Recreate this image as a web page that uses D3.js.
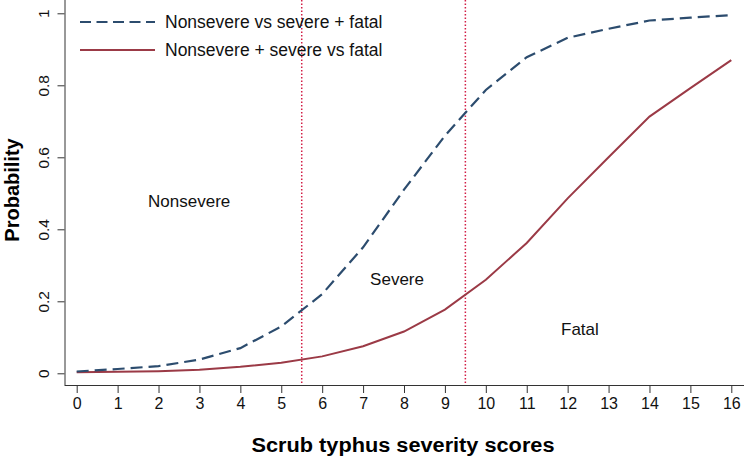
<!DOCTYPE html>
<html>
<head>
<meta charset="utf-8">
<script src="https://cdn.jsdelivr.net/npm/d3@7"></script>
<style>
  body { margin: 0; background: #fff; }
  svg { display: block; font-family: "Liberation Sans", Arial, sans-serif; }
</style>
</head>
<body>
<svg id="chart" width="744" height="458"></svg>
<script>
// scores on the x axis
const scores = d3.range(0, 17);
// predicted probabilities
const nonsevereVsSevereFatal = [0.005, 0.012, 0.02, 0.038, 0.07, 0.13, 0.22, 0.35, 0.51, 0.66, 0.787, 0.878, 0.932, 0.957, 0.98, 0.988, 0.995];
const nonsevereSevereVsFatal = [0.003, 0.004, 0.006, 0.01, 0.018, 0.029, 0.047, 0.075, 0.116, 0.177, 0.26, 0.362, 0.486, 0.6, 0.713, 0.792, 0.87];
const cutoffs = [5.5, 9.5];
const yTicks = [0, 0.2, 0.4, 0.6, 0.8, 1];
const legendLabels = ["Nonsevere vs severe + fatal", "Nonsevere + severe vs fatal"];
const regionLabels = [
  { text: "Nonsevere", x: 2.75, y: 0.478 },
  { text: "Severe", x: 7.83, y: 0.262 },
  { text: "Fatal", x: 12.3, y: 0.122 }
];

const svg = d3.select("#chart");
const x = d3.scaleLinear().domain([0, 16]).range([76.7, 731.3]);
const y = d3.scaleLinear().domain([0, 1]).range([373.3, 13.3]);

const blue = "#2c4c6e", red = "#9b3a46", dotRed = "#d21e46";

// axes: left and bottom lines, R style
const xAxis = svg.append("g").attr("transform", "translate(0,385)")
  .call(d3.axisBottom(x).tickValues(scores).tickSize(8).tickPadding(5).tickFormat(d3.format("d")));
xAxis.select(".domain").attr("d", "M64.5,0.5H744").attr("stroke", "#333");
xAxis.selectAll("line").attr("stroke", "#333");
xAxis.selectAll("text").attr("font-size", 16).attr("fill", "#111").attr("font-family", "Liberation Sans, Arial, sans-serif");

const yAxis = svg.append("g").attr("transform", "translate(64.5,0)")
  .call(d3.axisLeft(y).tickValues(yTicks).tickSize(7).tickFormat(d => d === 0 || d === 1 ? d : d3.format(".1f")(d)));
yAxis.select(".domain").attr("d", "M0.5,0V385").attr("stroke", "#333");
yAxis.selectAll("line").attr("stroke", "#333");
yAxis.selectAll("text")
  .attr("font-size", 15.5).attr("fill", "#111")
  .attr("font-family", "Liberation Sans, Arial, sans-serif")
  .attr("text-anchor", "middle")
  .attr("dy", null)
  .attr("x", null)
  .attr("transform", "translate(-20,0) rotate(-90)")
  .attr("dominant-baseline", "middle");

// cutoff lines
svg.selectAll(".cut").data(cutoffs).enter().append("line")
  .attr("x1", d => x(d)).attr("x2", d => x(d))
  .attr("y1", 0).attr("y2", 385)
  .attr("stroke", dotRed).attr("stroke-width", 1.5)
  .attr("stroke-dasharray", "1.5,2");

const line = d3.line().x((d, i) => x(scores[i])).y(d => y(d));

svg.append("path").datum(nonsevereSevereVsFatal)
  .attr("d", line).attr("fill", "none")
  .attr("stroke", red).attr("stroke-width", 2);

svg.append("path").datum(nonsevereVsSevereFatal)
  .attr("d", line).attr("fill", "none")
  .attr("stroke", blue).attr("stroke-width", 2.2)
  .attr("stroke-dasharray", "12,6");

// legend
const legend = svg.append("g");
legendLabels.forEach((t, i) => {
  const ly = 22 + i * 28;
  legend.append("line").attr("x1", 80).attr("x2", 155).attr("y1", ly).attr("y2", ly)
    .attr("stroke", i === 0 ? blue : red).attr("stroke-width", i === 0 ? 2.2 : 2)
    .attr("stroke-dasharray", i === 0 ? "11,5.5" : null);
  legend.append("text").attr("x", 165).attr("y", ly).attr("dy", "0.35em")
    .attr("font-size", 17.5).attr("fill", "#111").text(t);
});

// region labels
svg.selectAll(".region").data(regionLabels).enter().append("text")
  .attr("x", d => x(d.x)).attr("y", d => y(d.y)).attr("dy", "0.35em")
  .attr("text-anchor", "middle").attr("font-size", 17).attr("fill", "#111")
  .text(d => d.text);

// axis titles
svg.append("text").attr("x", 403).attr("y", 452)
  .attr("text-anchor", "middle").attr("font-size", 20).attr("font-weight", "bold")
  .attr("textLength", 303).attr("lengthAdjust", "spacingAndGlyphs")
  .text("Scrub typhus severity scores");
svg.append("text").attr("transform", "translate(12,190) rotate(-90)").attr("dy", "0.35em")
  .attr("text-anchor", "middle").attr("font-size", 20).attr("font-weight", "bold")
  .text("Probability");
</script>
</body>
</html>
